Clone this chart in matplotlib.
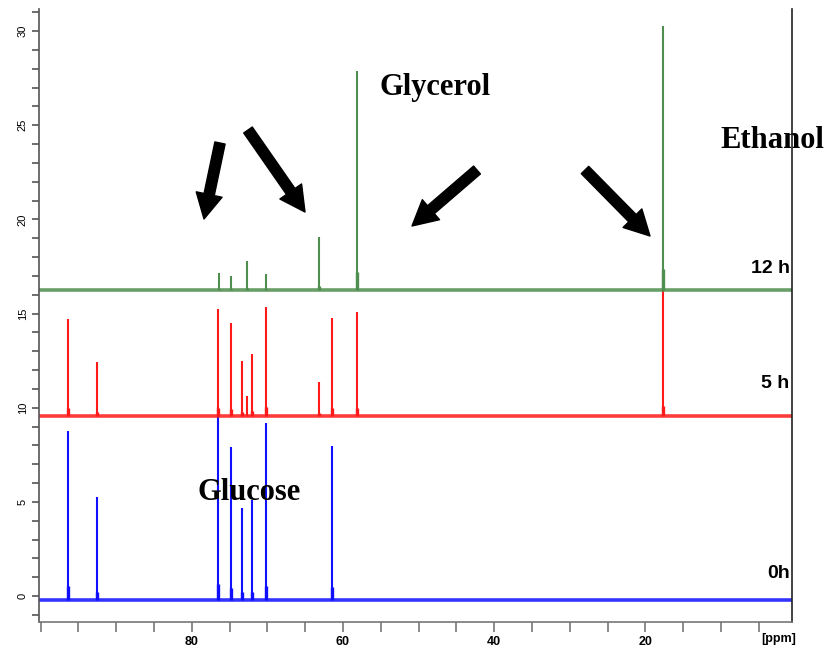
import matplotlib
matplotlib.use("Agg")
import matplotlib.pyplot as plt
from matplotlib.ticker import MultipleLocator, FixedLocator

# ---- data ----
ppm_blue = [96.4, 92.5, 76.5, 74.8, 73.4, 72.0, 70.2, 61.4]
top_blue = [8.78, 5.27, 10.05, 7.93, 4.67, 5.1, 9.2, 7.98]
base_blue = -0.2

ppm_red = [96.4, 92.5, 76.5, 74.8, 73.4, 72.7, 72.0, 70.2, 63.1, 61.4, 58.2, 17.7]
top_red = [14.7, 12.44, 15.24, 14.48, 12.5, 10.6, 12.85, 15.33, 11.38, 14.75, 15.07, 16.4]
base_red = 9.55

ppm_green = [76.4, 74.8, 72.7, 70.2, 63.1, 58.2, 17.7]
top_green = [17.15, 17.0, 17.8, 17.1, 19.08, 27.9, 30.27]
base_green = 16.25

x_range = [100.2, 0.6]
y_range = [-1.38, 31.17]
x_tick_labels = [80, 60, 40, 20]
y_tick_labels = [0, 5, 10, 15, 20, 25, 30]
trace_labels = ["0h", "5 h", "12 h"]

plt.rcParams['font.family'] = ['Liberation Sans', 'DejaVu Sans']

fig = plt.figure(figsize=(8.3, 6.51), dpi=100)
ax = fig.add_axes([39/830, 1-622/651, (792-39)/830, (622-9)/651])

traces = [
    (ppm_blue, top_blue, base_blue, '#1010ff'),
    (ppm_red, top_red, base_red, '#ff1a1a'),
    (ppm_green, top_green, base_green, '#4e8e4e'),
]
for ppm, top, base, col in traces:
    ax.plot(x_range, [base, base], color=col, lw=2.6, alpha=0.85, solid_capstyle='butt')
    ax.vlines(ppm, base, top, color=col, lw=1.5)
    ax.vlines(ppm, base, [base + 0.08*(t-base) for t in top], color=col, lw=2.4)

ax.set_xlim(x_range)
ax.set_ylim(y_range)

ax.spines['top'].set_visible(False)
ax.spines['right'].set_color('#222222')
ax.spines['left'].set_color('#555555')
ax.spines['bottom'].set_color('#777777')
for s in ax.spines.values():
    s.set_linewidth(1.2)

ax.yaxis.set_major_locator(FixedLocator(y_tick_labels))
ax.yaxis.set_minor_locator(MultipleLocator(1))
ax.set_yticklabels([str(v) for v in y_tick_labels], rotation=90, va='center', fontsize=8)
ax.tick_params(axis='y', which='both', direction='out', length=5, width=1.2, color='#555555', pad=3)

ax.xaxis.set_major_locator(FixedLocator(x_tick_labels))
ax.xaxis.set_minor_locator(MultipleLocator(5))
ax.set_xticklabels([str(v) for v in x_tick_labels], fontsize=9, fontweight='bold')
ax.tick_params(axis='x', which='both', direction='out', length=7, width=1.2, color='#777777', pad=3)
fig.text(779/830, 1-639/651, "[ppm]", ha='center', va='center', fontsize=9, fontweight='bold')

# trace labels
for lab, yy in zip(trace_labels, [1.2, 11.3, 17.4]):
    ax.text(0.9, yy, lab, ha='right', va='center', fontsize=14, fontweight='bold')

# compound labels (figure pixel coordinates)
def ftext(xp, yp, s):
    fig.text(xp/830, 1-yp/651, s, ha='center', va='center', fontsize=22,
             fontweight='bold', family='Liberation Serif')

ftext(435, 88, "Glycerol")
ftext(772, 140, "Ethanol")
ftext(249, 492, "Glucose")

arrows = [((220, 143), (204, 219)), ((248, 130), (305, 212)),
          ((477, 170), (412, 226)), ((585, 170), (650, 236))]
for tail, tip in arrows:
    ax.annotate('', xy=(tip[0], 651-tip[1]), xycoords='figure pixels',
                xytext=(tail[0], 651-tail[1]), textcoords='figure pixels',
                arrowprops=dict(arrowstyle='simple,head_length=1.8,head_width=1.9,tail_width=0.75',
                                color='black', mutation_scale=10, shrinkA=0, shrinkB=0),
                annotation_clip=False)

fig.savefig("out.png", dpi=100)
